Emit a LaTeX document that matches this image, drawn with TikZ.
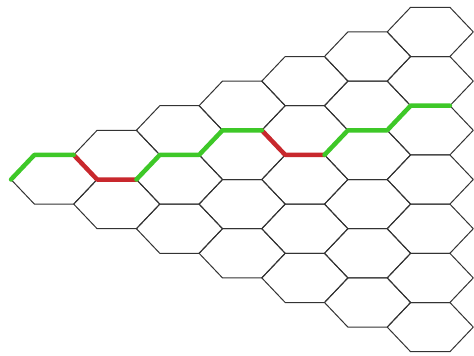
\documentclass[tikz,border=0pt]{standalone}
\definecolor{pathgreen}{RGB}{62,200,40}
\definecolor{pathred}{RGB}{200,40,45}
\begin{document}
\begin{tikzpicture}[x=1pt,y=-1pt,
  hexedge/.style={draw=black!80, line width=1pt, line join=round},
  greenpath/.style={draw=pathgreen, line width=4.5pt, line join=round, line cap=round},
  redpath/.style={draw=pathred, line width=4.5pt, line join=round, line cap=round}]
\useasboundingbox (0,0) rectangle (474,356);
\begin{scope}
\clip (0,0) rectangle (474,356);
\foreach \i in {0,...,6}{
  \foreach \k in {0,...,\i}{
    \pgfmathsetmacro\cx{54.05+62.7*\i}
    \pgfmathsetmacro\cy{179.5-24.6*\i+49.2*\k}
    \coordinate (c-\i-\k) at (\cx,\cy);
    \draw[hexedge] (\cx-43.05,\cy) -- ++(23.4,-24.6) -- ++(39.3,0) -- ++(23.4,24.6) -- ++(-23.4,24.6) -- ++(-39.3,0) -- cycle;
  }
}
% red segments
\draw[redpath] ([shift={(19.65,-24.6)}]c-0-0) -- ([shift={(43.05,0)}]c-0-0) -- ([shift={(19.65,-24.6)}]c-1-1);
\draw[redpath] ([shift={(19.65,-24.6)}]c-3-1) -- ([shift={(43.05,0)}]c-3-1) -- ([shift={(19.65,-24.6)}]c-4-2);
% green segments
\draw[greenpath] ([shift={(-43.05,0)}]c-0-0) -- ([shift={(-19.65,-24.6)}]c-0-0) -- ([shift={(19.65,-24.6)}]c-0-0);
\draw[greenpath] ([shift={(-43.05,0)}]c-2-1) -- ([shift={(-19.65,-24.6)}]c-2-1) -- ([shift={(19.65,-24.6)}]c-2-1)
  -- ([shift={(-19.65,-24.6)}]c-3-1) -- ([shift={(19.65,-24.6)}]c-3-1);
\draw[greenpath] ([shift={(-43.05,0)}]c-5-2) -- ([shift={(-19.65,-24.6)}]c-5-2) -- ([shift={(19.65,-24.6)}]c-5-2)
  -- ([shift={(-19.65,-24.6)}]c-6-2) -- ([shift={(19.65,-24.6)}]c-6-2);
\end{scope}
\end{tikzpicture}
\end{document}
